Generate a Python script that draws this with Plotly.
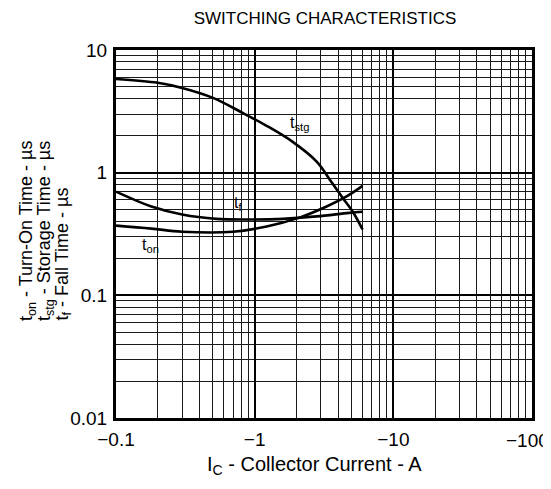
import math
import plotly.graph_objects as go

# Collector current magnitudes (A) and times (us)
tstg_ic = [0.1, 0.2, 0.3, 0.5, 0.82, 1.22, 1.87, 2.8, 3.6, 4.3, 5.1, 6.0]
tstg = [5.8, 5.4, 4.9, 4.07, 3.07, 2.41, 1.79, 1.23, 0.83, 0.625, 0.48, 0.344]

tf_ic = [0.1, 0.18, 0.3, 0.53, 0.92, 1.6, 2.8, 4.8, 6.0]
tf = [0.70, 0.53, 0.456, 0.42, 0.415, 0.42, 0.44, 0.47, 0.48]

ton_ic = [0.1, 0.18, 0.3, 0.7, 1.22, 2.1, 3.3, 4.6, 6.0]
ton = [0.37, 0.35, 0.33, 0.33, 0.364, 0.43, 0.53, 0.64, 0.78]

x_tickvals = [0.1, 1, 10, 100]
x_ticktext = ["\u22120.1", "\u22121", "\u221210", "\u2212100"]
y_tickvals = [0.01, 0.1, 1, 10]
y_ticktext = ["0.01", "0.1", "1", "10"]

curve_labels = ["t<sub>stg</sub>", "t<sub>f</sub>", "t<sub>on</sub>"]
label_ic = [2.12, 0.755, 0.176]
label_t = [2.5, 0.56, 0.255]

y_title_lines = ["t<sub>on</sub> - Turn-On Time - \u00b5s",
                 "t<sub>stg</sub> - Storage Time - \u00b5s",
                 "t<sub>f</sub> - Fall Time - \u00b5s"]

x_minor = [m * d for d in [0.1, 1, 10] for m in range(2, 10)]
y_minor = [m * d for d in [0.01, 0.1, 1] for m in range(2, 10)]

FONT = "Liberation Sans, Arial, Helvetica, sans-serif"

# the page body adds an 8px offset; plot area spans 116..532 x 50..418 in the window
OFF = 8
L, R, T, B = 116, 532, 50, 418
PW, PH = R - L, B - T

fig = go.Figure()
for xs, ys in [(tstg_ic, tstg), (tf_ic, tf), (ton_ic, ton)]:
    fig.add_trace(go.Scatter(x=xs, y=ys, mode="lines",
                             line=dict(color="black", width=2.6, shape="spline"),
                             showlegend=False, hoverinfo="skip"))

for txt, lx, ly in zip(curve_labels, label_ic, label_t):
    fig.add_annotation(x=math.log10(lx), y=math.log10(ly), text=txt, showarrow=False,
                       font=dict(size=16, color="black", family=FONT), borderpad=0)

# last x tick label sits against the right edge, so it is right-anchored
shown_x_text = x_ticktext[:-1] + [""]
fig.add_annotation(xref="paper", yref="paper", x=(550 - L) / PW, y=-(440 - B) / PH,
                   xanchor="right", yanchor="middle", text=x_ticktext[-1],
                   showarrow=False, borderpad=0,
                   font=dict(size=19, color="black", family=FONT))

fig.update_xaxes(type="log", range=[-1, 2], tickvals=x_tickvals, ticktext=shown_x_text,
                 showgrid=True, gridcolor="black", gridwidth=2,
                 minor=dict(tickvals=x_minor, showgrid=True, gridcolor="#1a1a1a", gridwidth=1.2),
                 showline=True, mirror=True, linecolor="black", linewidth=3,
                 ticks="", tickfont=dict(size=19, color="black", family=FONT),
                 ticklabelstandoff=2, automargin=False, zeroline=False)
fig.update_yaxes(type="log", range=[-2, 1], tickvals=y_tickvals, ticktext=y_ticktext,
                 showgrid=True, gridcolor="black", gridwidth=2,
                 minor=dict(tickvals=y_minor, showgrid=True, gridcolor="#1a1a1a", gridwidth=1.2),
                 showline=True, mirror=True, linecolor="black", linewidth=3,
                 ticks="", tickfont=dict(size=19, color="black", family=FONT),
                 ticklabelstandoff=2, automargin=False, zeroline=False)

fig.add_annotation(xref="paper", yref="paper", x=(314 - L) / PW, y=-(465 - B) / PH,
                   yanchor="middle",
                   text="I<sub>C</sub> - Collector Current - A", showarrow=False,
                   font=dict(size=20, color="black", family=FONT))

for i, line in enumerate(y_title_lines):
    px = 27 + 18 * i
    fig.add_annotation(xref="paper", yref="paper", x=(px - L) / PW, y=(B - 322) / PH,
                       xanchor="center", yanchor="bottom", textangle=-90,
                       text=line, showarrow=False, borderpad=0,
                       font=dict(size=18, color="black", family=FONT))

fig.update_layout(
    width=551, height=489,
    margin=dict(l=L - OFF, r=551 - (R - OFF), t=T - OFF, b=489 - (B - OFF)),
    paper_bgcolor="white", plot_bgcolor="white",
    title=dict(text="SWITCHING CHARACTERISTICS", x=(325 - L) / PW, xref="paper",
               y=1 - (18 - OFF) / 489, yref="container", yanchor="middle",
               font=dict(size=17, color="black", family=FONT)),
)

fig.write_html("out.html")
